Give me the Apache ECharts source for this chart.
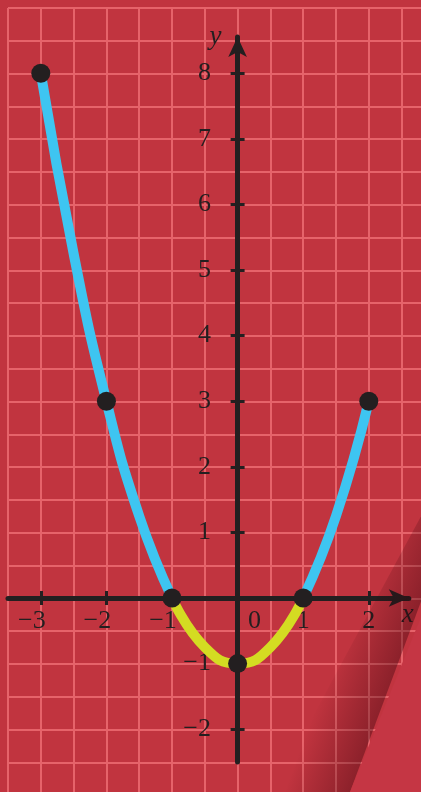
<!DOCTYPE html>
<html>
<head>
<meta charset="utf-8">
<script src="https://cdn.jsdelivr.net/npm/echarts@6/dist/echarts.min.js"></script>
<style>
html,body{margin:0;padding:0;background:#c1343f;}
#chart{width:421px;height:792px;}
</style>
</head>
<body>
<div id="chart"></div>
<script>
// ---- data ----
const curveX = [-3, -2.5, -2, -1.5, -1, -0.5, 0, 0.5, 1, 1.5, 2];
const curveY = [8, 5.25, 3, 1.25, 0, -0.75, -1, -0.75, 0, 1.25, 3];
const pointX = [-3, -2, -1, 0, 1, 2];
const pointY = [8, 3, 0, -1, 0, 3];
const xTickValues = [-3, -2, -1, 0, 1, 2];
const xTickMarks = [-3, -2, -1, 1, 2];
const yTickValues = [-2, -1, 1, 2, 3, 4, 5, 6, 7, 8];

// ---- styles ----
const BG = '#c1343f', GRIDC = '#e6636a', INK = '#231f20';
const BLUE = '#3ec5f1', YELLOW = '#d4dc22';
const FONT = '"Liberation Serif", "DejaVu Serif", serif';
const U = 65.6, X0 = 238, Y0 = 598;
const XMIN = -3.5, XMAX = 2.61, YMIN = -2.5, YMAX = 8.55;

const lbl = v => (v < 0 ? '\u2212' + Math.abs(v) : String(v));
const txt = {fontFamily: FONT, fontSize: 26, color: INK};
const pts = curveX.map((x, i) => [x, curveY[i]]);
const segLeft = pts.filter(p => p[0] <= -1);
const segMid = pts.filter(p => p[0] >= -1 && p[0] <= 1);
const segRight = pts.filter(p => p[0] >= 1);

const hiddenAxis = (gi, extra) => Object.assign({gridIndex: gi, type: 'value', show: false}, extra || {});

const chart = echarts.init(document.getElementById('chart'), null, {renderer: 'canvas'});
chart.setOption({
  animation: false,
  backgroundColor: BG,
  grid: [
    // background squared paper
    {left: 8, top: 8, width: 6.5 * U, height: 12 * U, outerBoundsMode: 'none', containLabel: false},
    // axes + curve
    {left: 8, top: Y0 - YMAX * U, width: (XMAX - XMIN) * U, height: (YMAX - YMIN) * U, outerBoundsMode: 'none', containLabel: false},
    // x tick labels (bottom edge on the x axis)
    {left: 8, top: Y0 - 100, width: (XMAX - XMIN) * U, height: 100, outerBoundsMode: 'none', containLabel: false},
    // y tick labels (left edge on the y axis)
    {left: X0, top: Y0 - YMAX * U, width: 100, height: (YMAX - YMIN) * U, outerBoundsMode: 'none', containLabel: false}
  ],
  xAxis: [
    {gridIndex: 0, type: 'value', min: -3.5, max: 3, interval: 0.5,
     axisLine: {show: false}, axisTick: {show: false}, axisLabel: {show: false},
     splitLine: {show: true, lineStyle: {color: GRIDC, width: 2}}},
    {gridIndex: 1, type: 'value', min: XMIN, max: XMAX, position: 'bottom',
     axisLine: {show: true, onZero: true, symbol: ['none', 'arrow'], symbolSize: [13, 20],
                lineStyle: {color: INK, width: 5}},
     axisTick: {show: true, customValues: xTickMarks, length: 7, lineStyle: {color: INK, width: 3}},
     axisLabel: {show: false},
     splitLine: {show: false},
     name: 'x', nameLocation: 'end', nameGap: -1,
     nameTextStyle: {fontFamily: FONT, fontSize: 27, fontStyle: 'italic', color: INK,
                     align: 'center', verticalAlign: 'top', padding: [3, 0, 0, 0]}},
    {gridIndex: 1, type: 'value', min: XMIN, max: XMAX, position: 'top',
     axisLine: {show: false, onZero: true},
     axisTick: {show: true, customValues: xTickMarks, length: 7, lineStyle: {color: INK, width: 3}},
     axisLabel: {show: false}, splitLine: {show: false}},
    {gridIndex: 2, type: 'value', min: XMIN, max: XMAX, position: 'bottom',
     axisLine: {show: false, onZero: false}, axisTick: {show: false}, splitLine: {show: false},
     axisLabel: {show: true, customValues: xTickValues, margin: 10, hideOverlap: false,
       formatter: v => v < 0 ? '{n|' + lbl(v) + '}' : (v === 0 ? '{z|0}' : '{p|' + lbl(v) + '}'),
       rich: {
         n: Object.assign({padding: [0, 18, 0, 0]}, txt),
         z: Object.assign({padding: [0, 0, 0, 34]}, txt),
         p: Object.assign({}, txt)
       }}},
    hiddenAxis(3, {min: 0, max: 1})
  ],
  yAxis: [
    {gridIndex: 0, type: 'value', min: -3, max: 9, interval: 0.5,
     axisLine: {show: false}, axisTick: {show: false}, axisLabel: {show: false},
     splitLine: {show: true, lineStyle: {color: GRIDC, width: 2}}},
    {gridIndex: 1, type: 'value', min: YMIN, max: YMAX, position: 'left',
     axisLine: {show: true, onZero: true, symbol: ['none', 'arrow'], symbolSize: [14, 20],
                lineStyle: {color: INK, width: 5}},
     axisTick: {show: true, customValues: yTickValues, length: 7, lineStyle: {color: INK, width: 3}},
     axisLabel: {show: false},
     splitLine: {show: false},
     name: 'y', nameLocation: 'end', nameGap: 0,
     nameTextStyle: {fontFamily: FONT, fontSize: 27, fontStyle: 'italic', color: INK,
                     align: 'right', verticalAlign: 'middle', padding: [0, 16, 0, 0]}},
    {gridIndex: 1, type: 'value', min: YMIN, max: YMAX, position: 'right',
     axisLine: {show: false, onZero: true},
     axisTick: {show: true, customValues: yTickValues, length: 7, lineStyle: {color: INK, width: 3}},
     axisLabel: {show: false}, splitLine: {show: false}},
    hiddenAxis(2, {min: 0, max: 1}),
    {gridIndex: 3, type: 'value', min: YMIN, max: YMAX, position: 'left',
     axisLine: {show: false, onZero: false}, axisTick: {show: false}, splitLine: {show: false},
     axisLabel: {show: true, customValues: yTickValues, margin: 27, formatter: v => lbl(v),
                 hideOverlap: false, fontFamily: FONT, fontSize: 26, color: INK, align: 'right'}}
  ],
  graphic: [
    {type: 'polygon', z: 1, silent: true,
     shape: {points: [[446, 470], [470, 470], [350, 792], [272, 792]]},
     style: {fill: {type: 'linear', x: 318, y: 700, x2: 378, y2: 722, global: true,
       colorStops: [{offset: 0, color: 'rgba(50,0,8,0)'}, {offset: 1, color: 'rgba(50,0,8,0.38)'}]}}},
    {type: 'polygon', z: 1, silent: true,
     shape: {points: [[421, 617], [421, 792], [350, 792]]},
     style: {fill: '#c53644'}}
  ],
  series: [
    {type: 'line', xAxisIndex: 1, yAxisIndex: 1, smooth: true, showSymbol: false, symbol: 'none',
     clip: false, lineStyle: {width: 10, color: BLUE}, z: 3, data: segLeft},
    {type: 'line', xAxisIndex: 1, yAxisIndex: 1, smooth: true, showSymbol: false, symbol: 'none',
     clip: false, lineStyle: {width: 10, color: YELLOW}, z: 3, data: segMid},
    {type: 'line', xAxisIndex: 1, yAxisIndex: 1, smooth: true, showSymbol: false, symbol: 'none',
     clip: false, lineStyle: {width: 10, color: BLUE}, z: 3, data: segRight},
    {type: 'scatter', xAxisIndex: 1, yAxisIndex: 1, symbol: 'circle', symbolSize: 19,
     itemStyle: {color: INK, opacity: 1}, z: 4, clip: false,
     data: pointX.map((x, i) => [x, pointY[i]])}
  ]
});
</script>
</body>
</html>
